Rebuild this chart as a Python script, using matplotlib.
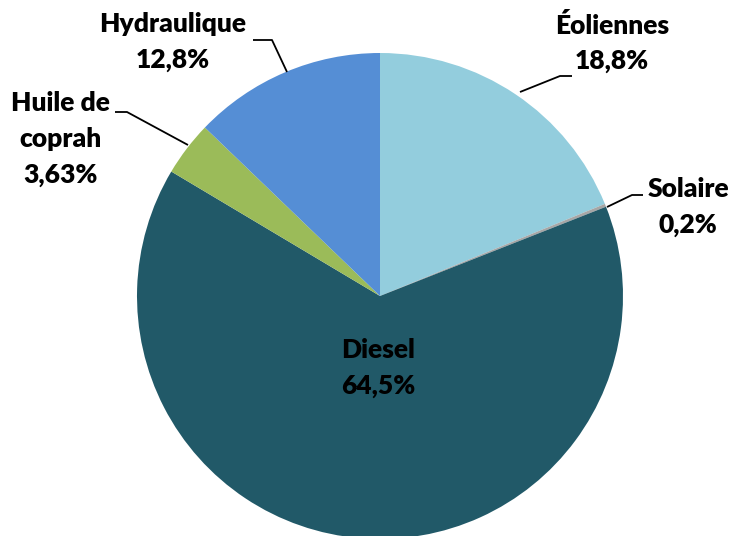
import matplotlib
matplotlib.use("Agg")
import matplotlib.pyplot as plt

categories = ["Éoliennes", "Solaire", "Diesel", "Huile de coprah", "Hydraulique"]
values = [18.8, 0.2, 64.5, 3.63, 12.8]
colors = ["#93CDDD", "#A6A6A6", "#215968", "#9BBB59", "#558ED5"]
display_names = {"Huile de coprah": ["Huile de", "coprah"]}

W, H = 731, 536
fig = plt.figure(figsize=(W / 100, H / 100), dpi=100)
ax = fig.add_axes([0, 0, 1, 1])
ax.set_xlim(0, W)
ax.set_ylim(0, H)
ax.set_aspect("equal")
ax.axis("off")

def py(y):
    return H - y

cx, cy, r = 380, 296, 243
ax.pie(values, colors=colors, startangle=90, counterclock=False,
       center=(cx, py(cy)), radius=r, frame=True,
       wedgeprops=dict(linewidth=0))
ax.set_xlim(0, W)
ax.set_ylim(0, H)
ax.axis("off")

font = dict(family=["Lato", "DejaVu Sans"], fontweight="heavy", fontsize=19, color="black")

# label top-line centers (pixels) and leader lines
label_pos = {
    "Éoliennes": (612, 25),
    "Solaire": (688, 189),
    "Diesel": (378, 350),
    "Huile de coprah": (60, 103),
    "Hydraulique": (173, 24),
}
leaders = {
    "Éoliennes": [(520, 92), (560, 76), (572, 76)],
    "Solaire": [(607, 207), (632, 195), (643, 195)],
    "Huile de coprah": [(188, 145), (127, 112), (115, 112)],
    "Hydraulique": [(287, 72), (272, 40), (253, 40)],
}
step = 36
for name, v in zip(categories, values):
    lines = display_names.get(name, [name]) + [f"{v:g}".replace(".", ",") + "%"]
    x0, y0 = label_pos[name]
    for i, t in enumerate(lines):
        ax.text(x0, py(y0 + i * step), t, ha="center", va="center", **font)
    if name in leaders:
        pts = leaders[name]
        ax.plot([p[0] for p in pts], [py(p[1]) for p in pts], color="black", lw=1.3,
                solid_capstyle="butt")

fig.savefig("out.png", dpi=100)
